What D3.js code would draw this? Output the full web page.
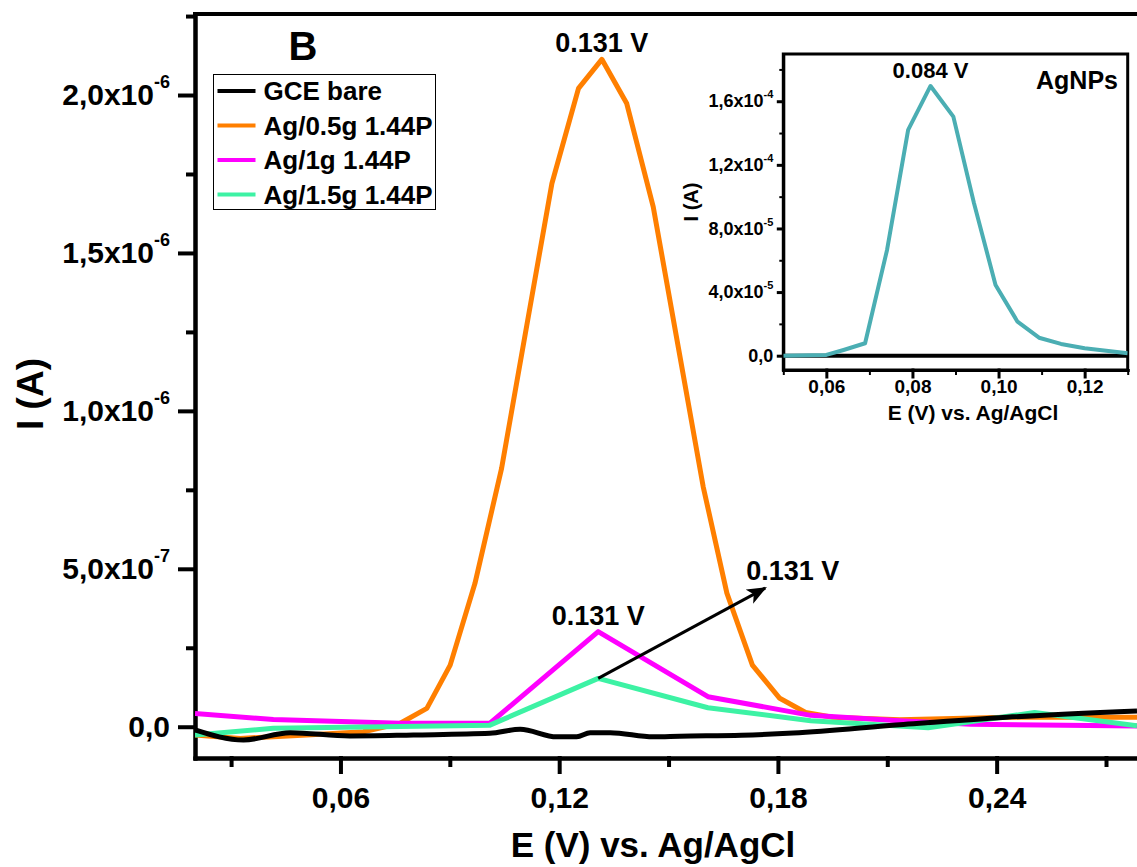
<!DOCTYPE html>
<html>
<head>
<meta charset="utf-8">
<script src="https://cdn.jsdelivr.net/npm/d3@7"></script>
<style>
body { margin: 0; background: #fff; }
svg { display: block; font-family: "Liberation Sans", Arial, sans-serif; font-weight: bold; }
</style>
</head>
<body>
<div class="chart"></div>
<script>
// values: E in V, I in A
const seriesNames = ["GCE bare", "Ag/0.5g 1.44P", "Ag/1g 1.44P", "Ag/1.5g 1.44P"];
const seriesColors = ["#000000", "#FF7F00", "#FF00FF", "#3DF2A4"];

const bareE = [0.0201, 0.0334, 0.0462, 0.0626, 0.08, 0.101, 0.1093, 0.1193, 0.1248, 0.1285, 0.134, 0.1458, 0.1531, 0.17, 0.1842, 0.2134, 0.2427, 0.2785];
const bareI = [-1.0e-8, -4.2e-8, -1.9e-8, -2.9e-8, -2.6e-8, -2.1e-8, -0.8e-8, -3.2e-8, -3.2e-8, -1.9e-8, -1.9e-8, -3.2e-8, -3.0e-8, -2.7e-8, -2.0e-8, 0.6e-8, 3.0e-8, 5.0e-8];

const ag05E = [0.0201, 0.0325, 0.0508, 0.0663, 0.0764, 0.0837, 0.0901, 0.0969, 0.1042, 0.1111, 0.118, 0.1253, 0.1317, 0.1385, 0.1458, 0.1527, 0.1595, 0.166, 0.173, 0.1805, 0.1876, 0.195, 0.2134, 0.2427, 0.2785];
const ag05I = [-2.6e-8, -3.7e-8, -2.6e-8, -1.6e-8, 1.1e-8, 5.8e-8, 1.95e-7, 4.54e-7, 8.18e-7, 1.27e-6, 1.72e-6, 2.021e-6, 2.113e-6, 1.974e-6, 1.646e-6, 1.20e-6, 7.60e-7, 4.23e-7, 1.95e-7, 9.0e-8, 4.5e-8, 3.0e-8, 2.2e-8, 3.0e-8, 3.0e-8];

const ag1E = [0.0201, 0.0416, 0.0764, 0.101, 0.1307, 0.1608, 0.189, 0.2134, 0.233, 0.2785];
const ag1I = [4.2e-8, 2.3e-8, 1.1e-8, 1.1e-8, 3.01e-7, 9.5e-8, 3.6e-8, 1.9e-8, 0.8e-8, 0.2e-8];

const ag15E = [0.0201, 0.0416, 0.101, 0.1307, 0.1608, 0.189, 0.2212, 0.2504, 0.2785];
const ag15I = [-2.6e-8, -0.5e-8, 0.5e-8, 1.53e-7, 6.0e-8, 1.9e-8, -0.3e-8, 4.5e-8, 0.3e-8];

// inset (AgNPs)
const agnpE = [0.05, 0.06, 0.064, 0.069, 0.0741, 0.079, 0.0842, 0.0895, 0.0943, 0.0993, 0.1044, 0.1094, 0.1145, 0.12, 0.13];
const agnpI = [0, 0.05e-5, 0.36e-5, 0.78e-5, 6.65e-5, 14.2e-5, 16.96e-5, 15.03e-5, 9.58e-5, 4.45e-5, 2.14e-5, 1.13e-5, 0.74e-5, 0.47e-5, 0.15e-5];
const insetBareE = [0.05, 0.13];
const insetBareI = [0, 0];

// ticks
const xTicks = [0.06, 0.12, 0.18, 0.24];
const xTickText = ["0,06", "0,12", "0,18", "0,24"];
const xMinor = [0.03, 0.09, 0.15, 0.21, 0.27];
const yTicks = [0, 5e-7, 1e-6, 1.5e-6, 2e-6];
const yTickText = ["0,0", "5,0x10", "1,0x10", "1,5x10", "2,0x10"];
const yTickExp = ["", "-7", "-6", "-6", "-6"];
const yMinor = [2.5e-7, 7.5e-7, 1.25e-6, 1.75e-6, 2.25e-6];

const ixTicks = [0.06, 0.08, 0.10, 0.12];
const ixTickText = ["0,06", "0,08", "0,10", "0,12"];
const ixMinor = [0.05, 0.07, 0.09, 0.11, 0.13];
const iyTicks = [0, 4e-5, 8e-5, 1.2e-4, 1.6e-4];
const iyTickText = ["0,0", "4,0x10", "8,0x10", "1,2x10", "1,6x10"];
const iyTickExp = ["", "-5", "-5", "-4", "-4"];
const iyMinor = [2e-5, 6e-5, 1e-4, 1.4e-4, 1.8e-4];

// annotations (data space)
const peakLabelE = [0.1317, 0.1307];
const peakLabelI = [2.113e-6, 3.01e-7];
const peakLabelText = ["0.131 V", "0.131 V"];
const arrowE = [0.1307, 0.1765];
const arrowI = [1.53e-7, 4.39e-7];
const arrowLabelText = "0.131 V";
const insetPeakE = 0.0842, insetPeakI = 16.96e-5, insetPeakText = "0.084 V";

const W = 1137, H = 867;
const main = {left: 195, top: 14, right: 1137, bottom: 758};
const ins = {left: 783.3, top: 54, right: 1127.7, bottom: 370};

var svg = d3.select(".chart")
    .append("svg")
    .attr("width", W)
    .attr("height", H);

var x = d3.scaleLinear().domain([0.0201, 0.2785]).range([main.left, main.right]);
var y = d3.scaleLinear().domain([-0.099e-6, 2.2565e-6]).range([main.bottom, main.top]);

svg.append("defs").append("clipPath").attr("id", "plotclip")
    .append("rect")
    .attr("x", main.left).attr("y", main.top)
    .attr("width", main.right - main.left).attr("height", main.bottom - main.top);

var marker = svg.select("defs").append("marker")
    .attr("id", "arrowhead")
    .attr("markerUnits", "userSpaceOnUse")
    .attr("markerWidth", 22).attr("markerHeight", 18)
    .attr("refX", 18).attr("refY", 8)
    .attr("orient", "auto");
marker.append("path").attr("d", "M0,0 L20,8 L0,16 L5,8 Z").attr("fill", "#000");

function styleAxis(g, size, width) {
    g.attr("font-size", size).attr("font-family", null).attr("font-weight", "bold");
    g.selectAll("line, path").attr("stroke", "#000").attr("stroke-width", width).attr("stroke-linecap", "square");
}

// minor ticks
var xm = svg.append("g")
    .attr("transform", "translate(0," + main.bottom + ")")
    .call(d3.axisBottom(x).tickValues(xMinor).tickSizeInner(7).tickSizeOuter(0).tickFormat(""));
styleAxis(xm, 30, 4);
var ym = svg.append("g")
    .attr("transform", "translate(" + main.left + ",0)")
    .call(d3.axisLeft(y).tickValues(yMinor).tickSizeInner(7).tickSizeOuter(0).tickFormat(""));
styleAxis(ym, 30, 4);

// major axes
var xa = svg.append("g")
    .attr("transform", "translate(0," + main.bottom + ")")
    .call(d3.axisBottom(x).tickValues(xTicks).tickSizeInner(14).tickSizeOuter(0).tickPadding(15)
        .tickFormat(function(d, i) { return xTickText[i]; }));
styleAxis(xa, 30, 4);

var ya = svg.append("g")
    .attr("transform", "translate(" + main.left + ",0)")
    .call(d3.axisLeft(y).tickValues(yTicks).tickSizeInner(15).tickSizeOuter(0).tickPadding(10).tickFormat(""));
styleAxis(ya, 30, 4);
ya.selectAll(".tick text").each(function(d, i) {
    var t = d3.select(this);
    t.append("tspan").text(yTickText[i]);
    if (yTickExp[i]) t.append("tspan").attr("dy", -17).style("font-size", "18px").text(yTickExp[i]);
});

// top frame line
svg.append("line")
    .attr("x1", main.left).attr("x2", main.right)
    .attr("y1", main.top).attr("y2", main.top)
    .attr("stroke", "#000").attr("stroke-width", 4).attr("stroke-linecap", "square");

// curves
var line = d3.line()
    .x(function(d) { return x(d[0]); })
    .y(function(d) { return y(d[1]); });

var curves = [
    {E: ag05E, I: ag05I, c: seriesColors[1]},
    {E: ag1E, I: ag1I, c: seriesColors[2]},
    {E: ag15E, I: ag15I, c: seriesColors[3]},
    {E: bareE, I: bareI, c: seriesColors[0]}
];
var plot = svg.append("g").attr("clip-path", "url(#plotclip)");
curves.forEach(function(s) {
    var pts = s.E.map(function(e, i) { return [e, s.I[i]]; });
    plot.append("path")
        .attr("d", s.c === "#000000" ? line.curve(d3.curveMonotoneX)(pts) : line.curve(d3.curveLinear)(pts))
        .attr("fill", "none")
        .attr("stroke", s.c)
        .attr("stroke-width", 5)
        .attr("stroke-linejoin", "round");
});

// peak labels
peakLabelText.forEach(function(t, i) {
    svg.append("text")
        .attr("x", x(peakLabelE[i]))
        .attr("y", y(peakLabelI[i]) - 7)
        .attr("text-anchor", "middle")
        .attr("font-size", 27)
        .text(t);
});

// arrow
svg.append("line")
    .attr("x1", x(arrowE[0])).attr("y1", y(arrowI[0]))
    .attr("x2", x(arrowE[1])).attr("y2", y(arrowI[1]))
    .attr("stroke", "#000").attr("stroke-width", 3)
    .attr("marker-end", "url(#arrowhead)");
svg.append("text")
    .attr("x", x(arrowE[1]) - 19)
    .attr("y", y(arrowI[1]) - 8)
    .attr("font-size", 27)
    .text(arrowLabelText);

// axis titles
svg.append("text")
    .attr("x", 653).attr("y", 857)
    .attr("text-anchor", "middle")
    .attr("font-size", 35)
    .text("E (V) vs. Ag/AgCl");
svg.append("text")
    .attr("transform", "translate(43,394) rotate(-90)")
    .attr("text-anchor", "middle")
    .attr("font-size", 37)
    .text("I (A)");
svg.append("text")
    .attr("x", 303).attr("y", 60)
    .attr("text-anchor", "middle")
    .attr("font-size", 40)
    .text("B");

// legend
var leg = svg.append("g").attr("transform", "translate(213.5,74.5)");
leg.append("rect")
    .attr("width", 222).attr("height", 135)
    .attr("fill", "#fff").attr("stroke", "#000").attr("stroke-width", 1);
seriesNames.forEach(function(n, i) {
    var cy = 16.5 + i * 34.5;
    leg.append("line")
        .attr("x1", 4).attr("x2", 42).attr("y1", cy).attr("y2", cy)
        .attr("stroke", seriesColors[i]).attr("stroke-width", 4);
    leg.append("text")
        .attr("x", 50).attr("y", cy + 9)
        .attr("font-size", 26)
        .text(n);
});

// ---------- inset ----------
var xi = d3.scaleLinear().domain([0.05, 0.13]).range([ins.left, ins.right]);
var yi = d3.scaleLinear().domain([-0.9e-5, 1.897e-4]).range([ins.bottom, ins.top]);

svg.append("rect")
    .attr("x", ins.left).attr("y", ins.top)
    .attr("width", ins.right - ins.left).attr("height", ins.bottom - ins.top)
    .attr("fill", "#fff").attr("stroke", "#000").attr("stroke-width", 3);

svg.append("defs").append("clipPath").attr("id", "insetclip")
    .append("rect")
    .attr("x", ins.left).attr("y", ins.top)
    .attr("width", ins.right - ins.left).attr("height", ins.bottom - ins.top);

var ixm = svg.append("g")
    .attr("transform", "translate(0," + ins.bottom + ")")
    .call(d3.axisBottom(xi).tickValues(ixMinor).tickSizeInner(4).tickSizeOuter(0).tickFormat(""));
styleAxis(ixm, 19, 2);
var iym = svg.append("g")
    .attr("transform", "translate(" + ins.left + ",0)")
    .call(d3.axisLeft(yi).tickValues(iyMinor).tickSizeInner(3).tickSizeOuter(0).tickFormat(""));
styleAxis(iym, 18, 2);

var ixa = svg.append("g")
    .attr("transform", "translate(0," + ins.bottom + ")")
    .call(d3.axisBottom(xi).tickValues(ixTicks).tickSizeInner(7).tickSizeOuter(0).tickPadding(3)
        .tickFormat(function(d, i) { return ixTickText[i]; }));
styleAxis(ixa, 19, 3);

var iya = svg.append("g")
    .attr("transform", "translate(" + ins.left + ",0)")
    .call(d3.axisLeft(yi).tickValues(iyTicks).tickSizeInner(5).tickSizeOuter(0).tickPadding(5).tickFormat(""));
styleAxis(iya, 18, 3);
iya.selectAll(".tick text").each(function(d, i) {
    var t = d3.select(this);
    t.append("tspan").text(iyTickText[i]);
    if (iyTickExp[i]) t.append("tspan").attr("dy", -9).style("font-size", "11px").text(iyTickExp[i]);
});

var iline = d3.line()
    .x(function(d) { return xi(d[0]); })
    .y(function(d) { return yi(d[1]); });
var iplot = svg.append("g").attr("clip-path", "url(#insetclip)");
iplot.append("path")
    .attr("d", iline(insetBareE.map(function(e, i) { return [e, insetBareI[i]]; })))
    .attr("fill", "none").attr("stroke", "#000").attr("stroke-width", 4);
iplot.append("path")
    .attr("d", iline(agnpE.map(function(e, i) { return [e, agnpI[i]]; })))
    .attr("fill", "none").attr("stroke", "#4BAEB3").attr("stroke-width", 4)
    .attr("stroke-linejoin", "round");

svg.append("text")
    .attr("x", xi(insetPeakE)).attr("y", yi(insetPeakI) - 8)
    .attr("text-anchor", "middle").attr("font-size", 22)
    .text(insetPeakText);
svg.append("text")
    .attr("x", 1118).attr("y", 89)
    .attr("text-anchor", "end").attr("font-size", 25)
    .text("AgNPs");
svg.append("text")
    .attr("x", 973).attr("y", 420)
    .attr("text-anchor", "middle").attr("font-size", 21)
    .text("E (V) vs. Ag/AgCl");
svg.append("text")
    .attr("transform", "translate(698,202) rotate(-90)")
    .attr("text-anchor", "middle").attr("font-size", 20)
    .text("I (A)");
</script>
</body>
</html>
